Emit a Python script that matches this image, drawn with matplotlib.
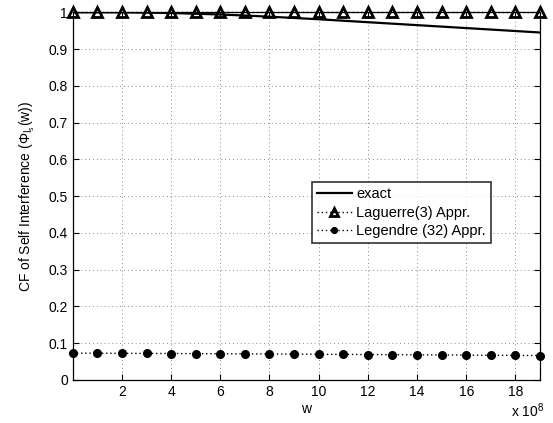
import numpy as np
import matplotlib
matplotlib.use("Agg")
import matplotlib.pyplot as plt
from matplotlib.ticker import FuncFormatter

plt.rcParams['font.family'] = ['Liberation Sans', 'DejaVu Sans']
plt.rcParams['mathtext.fontset'] = 'custom'
plt.rcParams['mathtext.rm'] = 'Liberation Sans'
plt.rcParams['mathtext.it'] = 'Liberation Sans'

# exact curve (w in units of 1e8)
exact_w = [0, 2, 4, 6, 8, 10, 12, 14, 16, 19]
exact_cf = [1.0, 0.9998, 0.998, 0.994, 0.988, 0.981, 0.973, 0.965, 0.957, 0.945]

# approximations sampled at w = 0..19 (x 1e8)
approx_w = list(range(20))
laguerre_cf = [1.0] * 20
legendre_cf = [0.073, 0.0728, 0.0725, 0.0722, 0.072, 0.0717, 0.0714, 0.071,
               0.0707, 0.0703, 0.070, 0.0696, 0.0692, 0.0688, 0.0684, 0.068,
               0.0676, 0.0672, 0.0668, 0.0664]

scale = 1e8
xticks = [2, 4, 6, 8, 10, 12, 14, 16, 18]
yticks = [0, 0.1, 0.2, 0.3, 0.4, 0.5, 0.6, 0.7, 0.8, 0.9, 1]

fig = plt.figure(figsize=(5.53, 4.23), dpi=100)
ax = fig.add_axes([0.1315, 0.1017, 0.845, 0.8693])

ax.plot(np.array(exact_w) * scale, exact_cf, '-', color='black', lw=1.6,
        label='exact')
ax.plot(np.array(approx_w) * scale, laguerre_cf, linestyle=(0, (1, 2)),
        color='black', lw=1, marker='^', markersize=7,
        markerfacecolor='none', markeredgewidth=2,
        label='Laguerre(3) Appr.', clip_on=False)
ax.plot(np.array(approx_w) * scale, legendre_cf, linestyle=(0, (1, 2)),
        color='black', lw=1, marker='o', markersize=5.5,
        markerfacecolor='black', label='Legendre (32) Appr.', clip_on=False)

ax.set_xlim(0, 19 * scale)
ax.set_ylim(0, 1)
ax.set_xticks(np.array(xticks) * scale)
ax.xaxis.set_major_formatter(FuncFormatter(lambda v, p: '%g' % (v / scale)))
ax.set_yticks(yticks)
ax.set_yticklabels(['%g' % t for t in yticks])

ax.grid(True, linestyle=(0, (1, 3)), color='#888888', lw=0.7)
ax.tick_params(direction='in', top=True, right=True, length=4, width=0.8,
               labelsize=10)
for s in ax.spines.values():
    s.set_linewidth(0.9)

ax.set_xlabel('w', fontsize=10, labelpad=2)
ax.set_ylabel(r'CF of Self Interference ($\Phi_{I_s}$(w))', fontsize=10,
              labelpad=8)
fig.text(0.984, 0.008, r'x 10$^8$', ha='right', va='bottom', fontsize=10)

leg = ax.legend(loc='upper left', bbox_to_anchor=(0.511, 0.538),
                fontsize=10.5, frameon=True, fancybox=False,
                edgecolor='black', handlelength=2.4, borderpad=0.35,
                labelspacing=0.3, handletextpad=0.3, borderaxespad=0,
                markerscale=0.75)
leg.get_frame().set_linewidth(1.2)

fig.savefig('out.png', dpi=100)
